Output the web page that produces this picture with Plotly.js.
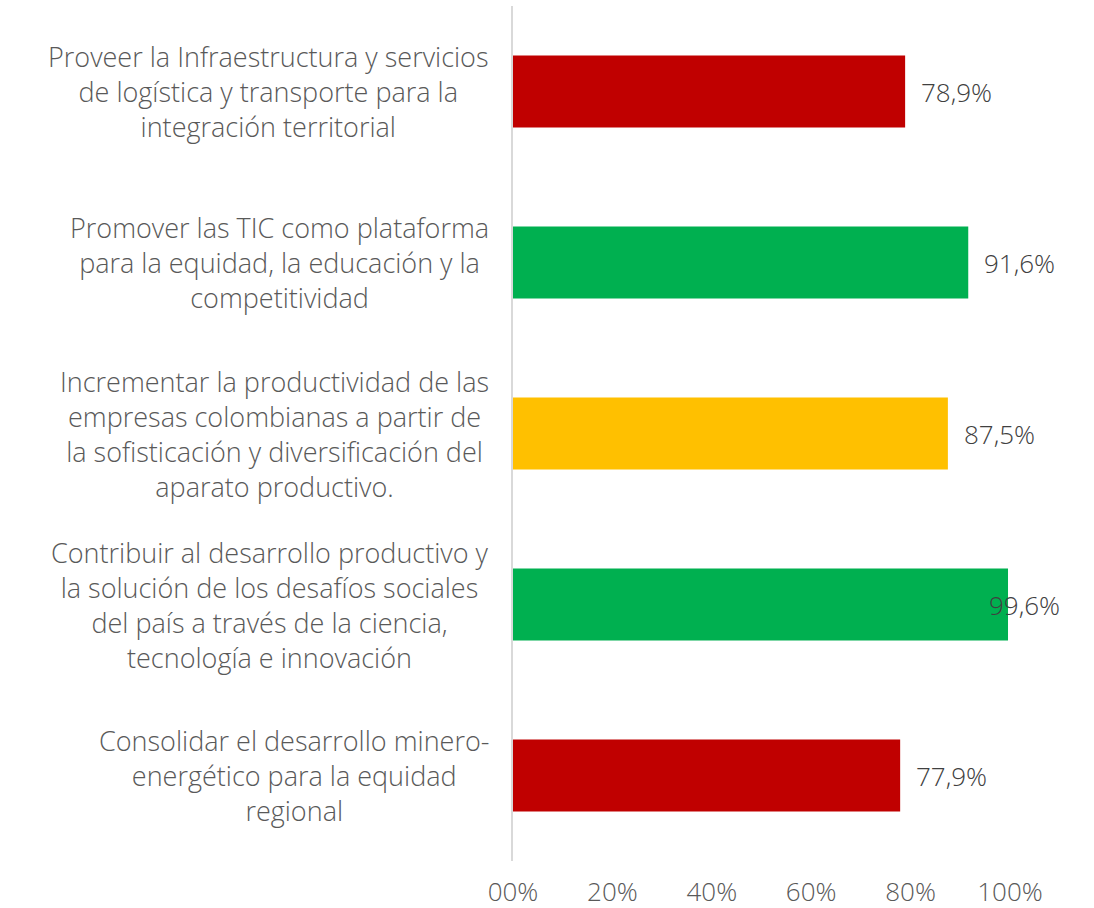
<!DOCTYPE html>
<html>
<head>
<meta charset="utf-8">
<script src="https://cdn.plot.ly/plotly-3.0.1.min.js"></script>
<style>html,body{margin:0;padding:0;background:#fff;}#chart{width:1094px;height:908px;}</style>
</head>
<body>
<div id="chart"></div>
<script>
var categories = [
  "Proveer la Infraestructura y servicios<br>de logística y transporte para la<br>integración territorial",
  "Promover las TIC como plataforma<br>para la equidad, la educación y la<br>competitividad",
  "Incrementar la productividad de las<br>empresas colombianas a partir de<br>la sofisticación y diversificación del<br>aparato productivo.",
  "Contribuir al desarrollo productivo y<br>la solución de los desafíos sociales<br>del país a través de la ciencia,<br>tecnología e innovación",
  "Consolidar el desarrollo minero-<br>energético para la equidad<br>regional"
];
var values = [0.789, 0.916, 0.875, 0.996, 0.779];
var valueLabels = ["78,9%", "91,6%", "87,5%", "99,6%", "77,9%"];
var barColors = ["#C00000", "#00B050", "#FFC000", "#00B050", "#C00000"];
var tickVals = [0, 0.2, 0.4, 0.6, 0.8, 1.0];
var tickLabels = ["00%", "20%", "40%", "60%", "80%", "100%"];

var FONT = "'Open Sans', Lato, sans-serif";

var trace = {
  type: "bar",
  orientation: "h",
  x: values,
  y: categories,
  marker: {color: barColors, line: {width: 0}},
  hoverinfo: "none"
};

var annotations = [];
categories.forEach(function(c, i){
  annotations.push({
    xref: "paper", yref: "y", x: 0, y: c,
    xanchor: "right", yanchor: "middle", xshift: -22,
    text: c, showarrow: false, align: "center",
    font: {family: FONT, size: 27, weight: 300, color: "#595959"}
  });
  // labels that would run past the chart area are pulled back inside it
  var overflow = values[i] > 0.95;
  annotations.push(overflow ? {
    xref: "paper", yref: "y", x: 1, y: c,
    xanchor: "right", yanchor: "middle", xshift: 52,
    text: valueLabels[i], showarrow: false,
    font: {family: FONT, size: 26, weight: 300, color: "#404040"}
  } : {
    xref: "x", yref: "y", x: values[i], y: c,
    xanchor: "left", yanchor: "middle", xshift: 14,
    text: valueLabels[i], showarrow: false,
    font: {family: FONT, size: 26, weight: 300, color: "#404040"}
  });
});

var layout = {
  width: 1094, height: 908,
  margin: {l: 513, r: 84, t: 6, b: 47, pad: 0},
  paper_bgcolor: "#ffffff", plot_bgcolor: "#ffffff",
  showlegend: false,
  bargap: 0.58,
  xaxis: {
    range: [0, 1], tickvals: tickVals, ticktext: tickLabels,
    showgrid: false, zeroline: false, showline: false,
    ticks: "", ticklabelstandoff: 13,
    tickfont: {family: FONT, size: 26, weight: 300, color: "#595959"},
    fixedrange: true
  },
  yaxis: {
    type: "category", autorange: "reversed",
    showticklabels: false, showgrid: false, zeroline: false,
    showline: true, linecolor: "#D9D9D9", linewidth: 2,
    ticks: "", fixedrange: true
  },
  annotations: annotations
};

Plotly.newPlot("chart", [trace], layout, {displayModeBar: false, staticPlot: true});
</script>
</body>
</html>
